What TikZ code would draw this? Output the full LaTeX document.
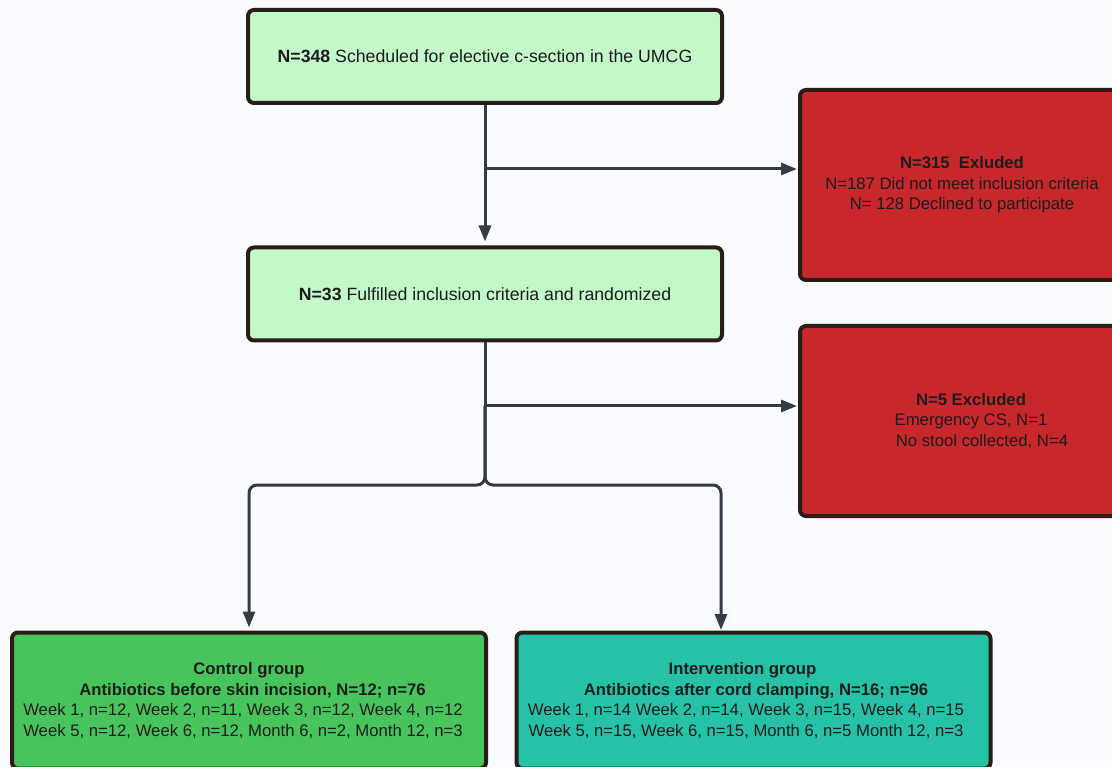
\documentclass[tikz,border=0pt]{standalone}
\usepackage{fontspec}
\setmainfont{Liberation Sans}
\usetikzlibrary{arrows.meta,calc}
\definecolor{bg}{HTML}{FAFBFE}
\definecolor{lgreen}{HTML}{C3F8C9}
\definecolor{redfill}{HTML}{C8272B}
\definecolor{ctrlfill}{HTML}{47C45C}
\definecolor{intfill}{HTML}{26C2A8}
\definecolor{bordercol}{HTML}{2A1C17}
\definecolor{conncol}{HTML}{343B47}
\definecolor{txt}{HTML}{1C1C1C}
\begin{document}
\begin{tikzpicture}[x=1pt,y=-1pt,
  box/.style={draw=bordercol, line width=4pt, rounded corners=6pt, align=center, text=txt,
    font=\fontsize{16.7}{20.5}\selectfont, inner sep=0pt},
  greenbox/.style={box, fill=lgreen, minimum width=474pt, minimum height=93pt,
    font=\fontsize{17.7}{21}\selectfont},
  redbox/.style={box, fill=redfill, minimum width=324pt, minimum height=190pt},
  groupbox/.style={box, minimum width=474pt, minimum height=136pt},
  arrowline/.style={draw=conncol, line width=3pt, -{Triangle[length=16pt,width=12pt]}},
  plainline/.style={draw=conncol, line width=3pt}]
\useasboundingbox (0,0) rectangle (1112,767);
\clip (0,0) rectangle (1112,767);
\fill[bg] (0,0) rectangle (1112,767);

% nodes
\node[greenbox] (top) at (485,56.5) {\textbf{N=348} Scheduled for elective c-section in the UMCG};
\node[redbox] (ex1) at (962,185) {\textbf{N=315\ \ Exluded}\\N=187 Did not meet inclusion criteria\\N= 128 Declined to participate};
\node[greenbox] (rand) at (485,294) {\textbf{N=33} Fulfilled inclusion criteria and randomized};
\node[redbox] (ex2) at (962,421) {\hspace*{18pt}\textbf{N=5 Excluded}\\\hspace*{18pt}Emergency CS, N=1\\\hspace*{40pt}No stool collected, N=4};
\node[groupbox, fill=ctrlfill] (ctrl) at (249,700.5) {\textbf{Control group}\\\hspace*{7pt}\textbf{Antibiotics before skin incision, N=12; n=76}\\\hspace*{-12pt}Week 1, n=12, Week 2, n=11, Week 3, n=12, Week 4, n=12\\\hspace*{-12pt}Week 5, n=12, Week 6, n=12, Month 6, n=2, Month 12, n=3};
\node[groupbox, fill=intfill] (int) at (753.5,700.5) {\hspace*{-22pt}\textbf{Intervention group}\\\hspace*{5pt}\textbf{Antibiotics after cord clamping, N=16; n=96}\\\hspace*{-15pt}Week 1, n=14 Week 2, n=14, Week 3, n=15, Week 4, n=15\\\hspace*{-15pt}Week 5, n=15, Week 6, n=15, Month 6, n=5 Month 12, n=3};

% connectors
\coordinate (b1) at (485,169);
\coordinate (b2) at (485,406);
\coordinate (split) at (485,485);
\coordinate (intin) at (721,633);

\draw[arrowline, shorten >=4pt] (top.south) -- (rand.north);
\draw[arrowline, shorten >=1pt] (b1) -- (b1 -| ex1.west);
\draw[plainline] (rand.south) -- (b2);
\draw[arrowline, shorten >=1pt] (b2) -- (b2 -| ex2.west);
\draw[arrowline, rounded corners=8pt, shorten >=3pt] (b2) -- (split) -| (ctrl.north);
\draw[arrowline, rounded corners=8pt, shorten >=3pt] (b2) -- (split) -| (intin);
\end{tikzpicture}
\end{document}
